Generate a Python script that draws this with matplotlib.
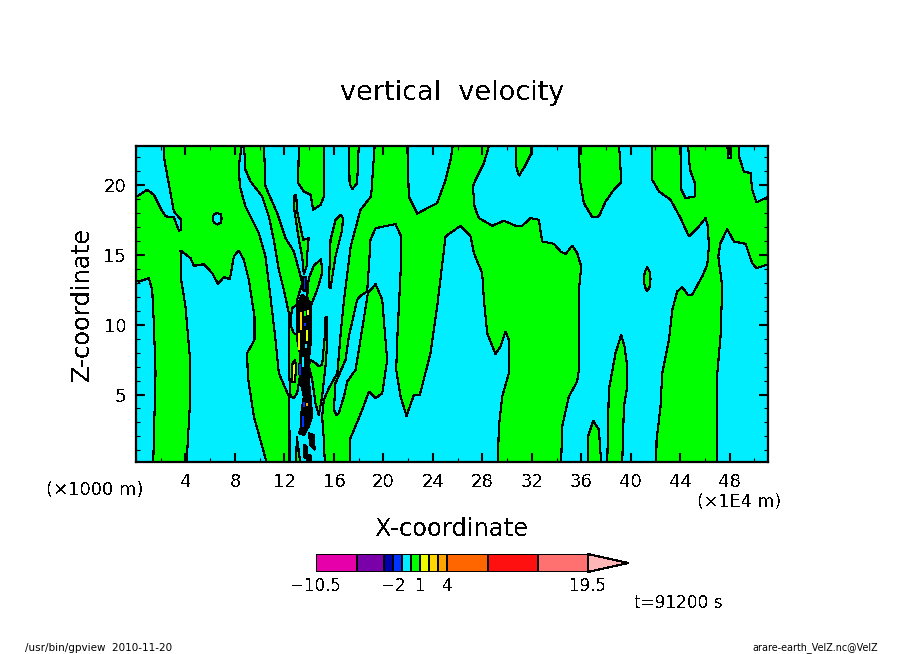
import matplotlib
matplotlib.use('Agg')
import matplotlib.pyplot as plt
from matplotlib.ticker import MultipleLocator

plt.rcParams['font.family'] = 'DejaVu Sans'
plt.rcParams['text.antialiased'] = False

CYAN = '#00eeff'
GREEN = '#00ff00'
LW = 0.8

x_ticks = [4, 8, 12, 16, 20, 24, 28, 32, 36, 40, 44, 48]
z_ticks = [5, 10, 15, 20]

# level boundaries and colours of the tone bar
levels = [-10.5, -6, -3, -2, -1, 0, 1, 2, 3, 4, 8.5, 14, 19.5]
level_colors = ['#e600aa', '#7a00aa', '#0000aa', '#0033ff', '#00eeff', '#00ff00',
                '#eeff00', '#ffd700', '#ffa500', '#ff6600', '#ff1010', '#ff7070']
over_color = '#ffb6b6'
level_ticks = [-10.5, -2, 1, 4, 19.5]
level_tick_labels = ['\u221210.5', '\u22122', '1', '4', '19.5']

# zero contour of the velocity field, (x, z); green is 0..1
left_band = [(2.25, 23), (2.25, 22.04), (3.06, 18.1), (3.65, 17.51), (3.65, 16.79), (3.46, 16.74),
             (3.06, 17.7), (2.39, 17.75), (1.98, 18.34), (1.44, 19.3), (0.9, 19.66), (0.09, 19.18),
             (-1, 19.1), (-1, 13.45), (0.23, 13.09), (1.04, 13.33), (1.31, 12.5), (1.44, 10.11),
             (1.58, 6.53), (1.39, 0), (4.08, 0), (4.35, 4.14), (4.35, 7.72), (4.0, 11.3), (3.65, 13.21),
             (3.6, 15.31), (4.41, 14.76), (4.68, 14.21), (5.49, 14.33), (6.16, 13.69), (6.62, 12.93),
             (7.1, 13.4), (7.59, 13.26), (7.91, 14.88), (8.31, 15.31), (8.72, 14.64), (9.12, 13.21),
             (9.58, 10.59), (9.58, 8.92), (8.99, 7.96), (9.04, 6.29), (9.53, 3.43), (10.2, 1.28),
             (10.61, 0), (12.41, 0), (12.41, 2.23), (12.36, 4.86), (11.55, 6.53), (11.28, 8.92),
             (10.87, 12.02), (10.47, 14.88), (9.93, 16.55), (8.85, 18.46), (8.4, 19.9), (8.31, 21.33),
             (8.58, 23)]
strip = [(8.72, 23), (8.85, 21.09), (9.26, 20.25), (10.2, 19.18), (10.74, 17.75), (11.14, 16.08),
         (11.55, 13.93), (11.95, 12.5), (12.36, 10.83), (12.36, 6.77), (12.5, 4.86), (12.76, 4.74),
         (13.03, 5.1), (13.3, 6.53), (13.17, 9.87), (13.03, 11.78), (13.44, 12.97), (13.17, 13.93),
         (12.76, 15.24), (12.09, 16.2), (11.41, 17.99), (10.47, 19.9), (10.34, 23)]
thin_spike = [(12.76, 19.18), (12.95, 19.3), (13.03, 18.11), (13.52, 16.08), (13.97, 16.2), (13.89, 15.6),
              (13.79, 14.17), (13.57, 13.57), (13.44, 14.88), (13.17, 16.08), (12.76, 18.46)]
top_a = [(13.17, 23), (13.11, 20.13), (13.57, 19.54), (14.11, 19.3), (14.33, 18.22), (14.92, 18.58),
         (15.19, 19.18), (15.19, 23)]
top_b = [(17.21, 23), (17.27, 20.13), (17.48, 19.7), (17.88, 20.13), (18.02, 23)]
lens = [(16.54, 17.87), (16.13, 17.51), (15.73, 16.08), (15.59, 12.73), (15.73, 12.62), (16.13, 14.88),
        (16.67, 16.79), (16.73, 17.63)]
wedge_up = [(13.84, 12.02), (13.97, 13.33), (14.38, 14.21), (14.97, 14.72), (15.05, 13.69), (14.65, 12.5),
            (14.11, 11.3)]
wedge_low = [(15.46, 10.59), (15.46, 8.68), (15.32, 7.01), (15.05, 4.86), (14.78, 3.54), (14.51, 4.38),
             (14.25, 6.05), (13.97, 7.01), (14.11, 7.48), (14.51, 7.24), (14.78, 7.01), (15.05, 7.13),
             (15.24, 8.92), (15.32, 10.47)]
main_body = [(19.31, 23), (19.01, 19.18), (18.15, 18.22), (17.36, 15.6), (16.82, 11.78), (16.55, 9.39),
             (16.28, 6.53), (15.59, 5.45), (15.19, 4.62), (15.05, 3.43), (15.19, 1.75), (15.27, 0),
             (17.29, 0), (17.34, 1.87), (18.29, 3.9), (18.83, 5.22), (19.37, 4.74), (19.91, 5.1),
             (20.31, 7.48), (20.17, 8.92), (19.91, 11.78), (19.37, 12.9), (18.75, 12.26), (18.15, 8.92),
             (17.75, 6.77), (17.08, 5.93), (16.81, 4.86), (16.4, 3.66), (16.21, 3.54), (16.0, 3.9),
             (16.13, 5.81), (16.94, 7.48), (17.21, 9.15), (17.88, 11.78), (18.15, 12.07), (18.69, 12.38),
             (18.83, 14.17), (18.96, 16.08), (19.37, 16.91), (20.98, 17.2), (21.44, 16.32), (21.39, 13.69),
             (21.12, 8.92), (21.04, 6.77), (21.39, 4.86), (21.87, 3.47), (22.47, 4.98), (22.95, 4.98),
             (23.81, 7.96), (24.35, 11.3), (25.03, 16.32), (26.24, 17.08), (27.05, 16.32), (27.32, 15.12),
             (27.99, 13.69), (28.13, 11.78), (28.4, 9.39), (29.07, 7.91), (29.47, 8.44), (29.88, 9.51),
             (30.15, 8.92), (30.15, 6.53), (29.61, 4.86), (29.34, 2.71), (29.25, 0), (34.37, 0),
             (34.46, 2.71), (35.0, 4.86), (35.67, 5.93), (35.81, 6.77), (35.81, 12.5), (36.0, 14.17),
             (35.67, 15.12), (35.27, 15.67), (34.73, 15.05), (34.33, 15.24), (33.79, 15.79), (32.84, 15.96),
             (32.57, 17.51), (31.9, 17.63), (31.23, 17.08), (30.69, 17.08), (29.75, 17.44), (28.8, 17.08),
             (27.72, 17.63), (27.37, 18.46), (27.24, 19.9), (27.45, 20.37), (28.13, 21.57), (28.61, 23),
             (25.65, 23), (25.43, 21.8), (25.03, 20.37), (24.35, 18.7), (23.54, 18.34), (22.74, 17.94),
             (22.06, 19.18), (21.93, 23)]
top_c = [(30.69, 23), (30.74, 21.33), (30.96, 20.66), (31.36, 21.21), (31.9, 22.16), (31.98, 23)]
block = [(35.81, 23), (35.89, 20.37), (36.21, 18.7), (36.89, 17.7), (37.43, 17.75), (37.97, 18.82),
         (38.64, 19.66), (39.18, 20.13), (39.18, 21.09), (39.05, 23)]
small_oval = [(41.33, 14.13), (41.52, 13.8), (41.6, 13.26), (41.52, 12.7), (41.33, 12.4), (41.14, 12.7),
              (41.06, 13.26), (41.14, 13.8)]
bottom_d = [(36.54, 0), (36.54, 1.99), (36.97, 3.12), (37.43, 2.47), (37.62, 0)]
bottom_e = [(38.1, 0), (38.23, 5.33), (38.77, 7.96), (39.23, 9.27), (39.5, 8.44), (39.72, 7.0),
            (39.72, 5.57), (39.45, 4.14), (39.31, 0)]
right_body = [(41.74, 23), (41.74, 20.37), (42.28, 19.54), (43.22, 18.94), (44.03, 17.63), (44.7, 16.32),
              (45.51, 17.03), (46.05, 17.63), (46.24, 17.03), (46.32, 15.6), (46.19, 14.29), (45.78, 13.45),
              (44.97, 12.14), (44.62, 12.14), (44.16, 12.69), (43.76, 12.38), (43.36, 11.06), (43.09, 8.92),
              (42.55, 6.53), (42.41, 4.14), (42.09, 1.75), (42.06, 0), (47.0, 0), (47.0, 6.53),
              (47.26, 9.15), (47.4, 12.73), (47.08, 14.88), (47.26, 15.84), (47.8, 16.84), (48.34, 15.96),
              (49.28, 15.79), (49.82, 14.41), (50.17, 14.05), (51.03, 14.29), (52, 14.4), (52, 19.0),
              (51.03, 19.13), (50.17, 18.75), (49.82, 19.66), (49.69, 20.85), (49.15, 20.97), (48.75, 22.04),
              (48.75, 23), (48.15, 23), (48.07, 21.93), (47.88, 21.93), (47.8, 23), (44.62, 23),
              (44.79, 21.09), (45.19, 20.13), (45.19, 19.18), (44.44, 19.06), (44.03, 19.78), (44.03, 23)]
sliver = [(12.95, 0), (13.0, 2.0), (13.3, 0)]
green_regions = [left_band, strip, thin_spike, top_a, top_b, lens, wedge_up, wedge_low, main_body,
                 top_c, block, small_oval, bottom_d, bottom_e, right_body, sliver]

# cyan islands inside the green
hole_a = [(6.2, 17.6), (6.3, 17.9), (6.56, 18.0), (6.85, 17.9), (6.92, 17.6), (6.85, 17.3), (6.56, 17.17), (6.3, 17.3)]
hole_b = [(13.03, 11.42), (12.63, 11.18), (12.49, 10.35), (12.58, 9.75), (12.76, 9.39), (13.03, 9.27)]
cyan_regions = [hole_a, hole_b]

# the updraft core, contours so tight it reads as solid black
core = [(13.44, 12.14), (13.17, 11.66), (13.09, 10.83), (13.03, 8.92), (13.25, 7.96), (13.2, 6.53),
        (13.39, 5.57), (13.57, 4.86), (13.36, 3.66), (13.36, 2.71), (13.17, 2.23), (13.57, 2.11),
        (13.97, 2.71), (14.25, 3.43), (14.11, 4.86), (13.97, 6.05), (13.97, 7.48), (14.16, 8.92),
        (14.11, 9.87), (14.11, 11.54), (13.84, 11.78)]
core_low = [(13.97, 2.23), (14.38, 2.11), (14.44, 1.04), (14.11, 1.4)]
core_base_a = [(13.57, 1.4), (13.79, 1.28), (13.79, 0.44), (13.63, 0.44)]
core_base_b = [(13.84, 0.7), (14.05, 0.7), (14.05, 0), (13.84, 0)]
black_regions = [core, core_low, core_base_a, core_base_b]

# small closed cells of other levels
blue_cell = [(13.48, 13.4), (13.78, 13.4), (13.75, 12.45), (13.52, 12.45)]
yellow_cell = [(12.6, 5.9), (12.6, 7.1), (12.85, 7.5), (12.95, 7.0), (12.85, 5.9)]

# streaks inside the core: x, z from, z to, colour
streak_x = [13.38, 13.17, 13.92, 13.84, 13.3, 13.52, 13.57, 13.84, 13.63, 13.5, 13.7, 13.75]
streak_z0 = [10.94, 9.39, 11.06, 9.63, 7.2, 3.43, 4.5, 4.38, 10.1, 7.7, 11.0, 8.6]
streak_z1 = [9.63, 8.2, 10.7, 8.8, 6.4, 2.71, 4.14, 4.2, 9.9, 7.0, 10.6, 8.3]
streak_c = ['#ffd700', '#eeff00', '#eeff00', '#eeff00', '#0033ff', '#0033ff', '#0033ff', '#ffa500',
            '#0033ff', '#00eeff', '#00ff00', '#00eeff']


def px_text(x, y, s, **kw):
    # place a text by its pixel position in the 904x654 figure
    return fig.text(x / 904, 1 - y / 654, s, **kw)


fig = plt.figure(figsize=(9.04, 6.54), dpi=100)
ax = fig.add_axes([136 / 904, 1 - 462 / 654, 632 / 904, 316 / 654])
ax.set_facecolor(CYAN)

for poly in green_regions:
    ax.fill(*zip(*poly), facecolor=GREEN, edgecolor='black', linewidth=LW, antialiased=False)
for poly in cyan_regions:
    ax.fill(*zip(*poly), facecolor=CYAN, edgecolor='black', linewidth=LW, antialiased=False)
for poly in black_regions:
    ax.fill(*zip(*poly), facecolor='black', edgecolor='black', linewidth=LW, antialiased=False)
ax.fill(*zip(*blue_cell), facecolor='#0033ff', edgecolor='black', linewidth=LW, antialiased=False)
ax.fill(*zip(*yellow_cell), facecolor='#eeff00', edgecolor='black', linewidth=LW, antialiased=False)
for x, z0, z1, c in zip(streak_x, streak_z0, streak_z1, streak_c):
    ax.plot([x, x], [z0, z1], color=c, linewidth=1.4, antialiased=False, solid_capstyle='butt')

ax.set_xlim(0, 51.1)
ax.set_ylim(0.17, 22.79)
ax.set_xticks(x_ticks)
ax.set_yticks(z_ticks)
ax.xaxis.set_minor_locator(MultipleLocator(2))
ax.yaxis.set_minor_locator(MultipleLocator(1))
ax.tick_params(which='major', direction='in', top=True, right=True, length=6.5, width=1.5,
               labelsize=13, pad=8)
ax.tick_params(which='minor', direction='in', top=True, right=True, length=3, width=0.8)
ax.tick_params(axis='y', which='major', pad=7)
for side in ax.spines.values():
    side.set_linewidth(1.6)

px_text(452, 93, 'vertical  velocity', fontsize=19.5, ha='center', va='center')
px_text(452, 529, 'X-coordinate', fontsize=17.4, ha='center', va='center')
px_text(82, 304, 'Z-coordinate', fontsize=17.4, ha='center', va='center', rotation=90)
px_text(95, 490, '(\u00d71000 m)', fontsize=13, ha='center', va='center')
px_text(739, 502, '(\u00d71E4 m)', fontsize=12.6, ha='center', va='center')
px_text(678, 603, 't=91200 s', fontsize=12.2, ha='center', va='center')
px_text(25, 648, '/usr/bin/gpview  2010-11-20', fontsize=7.5, ha='left', va='center', antialiased=True)
px_text(878, 648, 'arare-earth_VelZ.nc@VelZ', fontsize=6.9, ha='right', va='center', antialiased=True)

# tone bar, with the pointed end for values over the last level
cax = fig.add_axes([316 / 904, 1 - 572 / 654, 312 / 904, 18 / 654])
cax.axis('off')
cax.set_xlim(levels[0], levels[-1] + (levels[-1] - levels[0]) * 40 / 272)
cax.set_ylim(0, 1)
for lo, hi, c in zip(levels[:-1], levels[1:], level_colors):
    cax.barh(0.5, hi - lo, left=lo, height=1, color=c, edgecolor='black', linewidth=1.2, antialiased=False)
cax.fill([levels[-1], levels[-1], cax.get_xlim()[1]], [0, 1, 0.5], facecolor=over_color, edgecolor='black',
         linewidth=LW, clip_on=False, antialiased=False)
for t, s in zip(level_ticks, level_tick_labels):
    cax.text(t, -0.78, s, fontsize=12, ha='center', va='center', clip_on=False)

plt.savefig('out.png', dpi=100)
